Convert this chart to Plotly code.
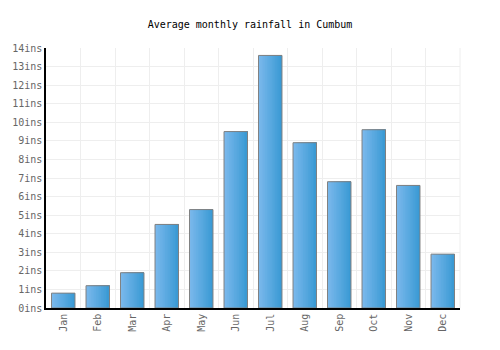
import plotly.graph_objects as go

months = ["Jan", "Feb", "Mar", "Apr", "May", "Jun", "Jul", "Aug", "Sep", "Oct", "Nov", "Dec"]
rainfall = [0.8, 1.2, 1.9, 4.5, 5.3, 9.5, 13.6, 8.9, 6.8, 9.6, 6.6, 2.9]
ytick_vals = list(range(0, 15))
ytick_text = [f"{v}ins" for v in ytick_vals]

FONT = "DejaVu Sans Mono"
bar_w = 0.68
n_steps = 14
c0 = (122, 184, 236)
c1 = (58, 154, 212)

fig = go.Figure()
step = bar_w / n_steps
for k in range(n_steps):
    t = k / (n_steps - 1)
    col = tuple(round(c0[i] + (c1[i] - c0[i]) * t) for i in range(3))
    fig.add_trace(go.Bar(
        x=months, y=rainfall,
        width=bar_w - k * step, offset=-bar_w / 2 + k * step,
        marker=dict(color=f"rgb{col}", line=dict(width=0)),
        hoverinfo="skip", showlegend=False,
    ))
fig.add_trace(go.Bar(
    x=months, y=rainfall, width=bar_w, offset=-bar_w / 2,
    marker=dict(color="rgba(0,0,0,0)", line=dict(color="#808080", width=1)),
    showlegend=False,
))

fig.update_layout(
    width=500, height=350,
    margin=dict(l=40, r=40, t=48, b=42),
    paper_bgcolor="white", plot_bgcolor="white",
    barmode="overlay",
    title=dict(text="Average monthly rainfall in Cumbum", x=0.5, xanchor="center",
               y=1 - 24 / 350, yanchor="middle",
               font=dict(family=FONT, size=10, color="black")),
    font=dict(family=FONT, size=10, color="#666666"),
)
fig.update_xaxes(
    type="category", tickson="boundaries", showgrid=True, gridcolor="#eeeeee", gridwidth=1,
    showline=True, linecolor="black", linewidth=1.5, ticks="", tickangle=-90,
    tickfont=dict(family=FONT, size=10, color="#666666"), mirror=False,
)
fig.update_yaxes(
    range=[0, 14], tickvals=ytick_vals, ticktext=ytick_text,
    showgrid=True, gridcolor="#eeeeee", gridwidth=1,
    showline=True, linecolor="black", linewidth=1.5, ticks="", zeroline=False,
    tickfont=dict(family=FONT, size=10, color="#666666"),
)
# right border gridline
fig.add_shape(type="line", xref="paper", yref="paper", x0=1, x1=1, y0=0, y1=1,
              line=dict(color="#eeeeee", width=1), layer="below")

fig.write_html("out.html")
